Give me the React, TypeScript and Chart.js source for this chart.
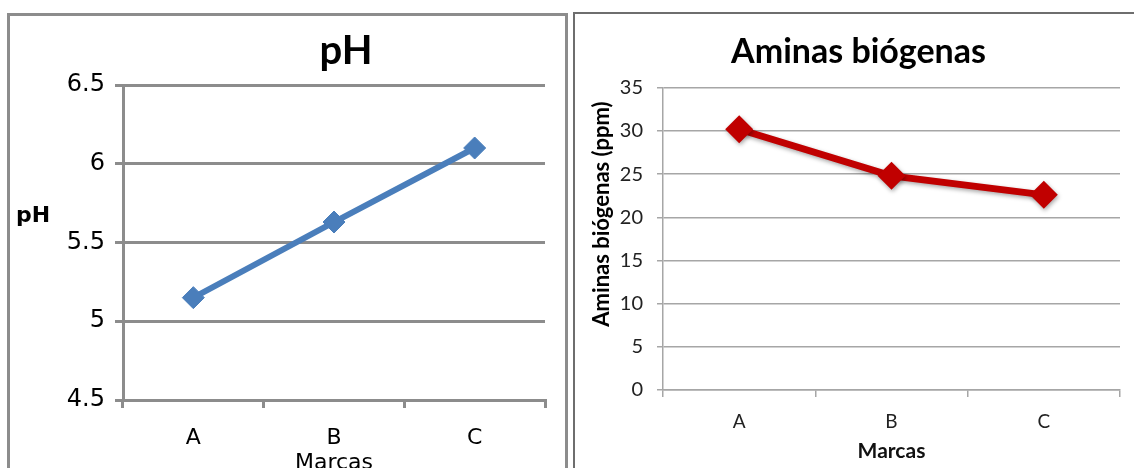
import React, { useEffect, useRef } from "react";
import { Chart, registerables } from "chart.js";

Chart.register(...registerables);

// ---- data ----
const categories = ["A", "B", "C"];
const phValues = [5.15, 5.63, 6.1];
const aminasValues = [30.2, 24.8, 22.6];
const phTitle = "pH";
const phAxisLabel = "pH";
const aminasTitle = "Aminas biógenas";
const aminasAxisLabel = "Aminas biógenas (ppm)";
const xAxisLabel = "Marcas";

const LEFT_FONT = "'DejaVu Sans', sans-serif";
const RIGHT_FONT = "Lato, 'Open Sans', sans-serif";

const leftTextPlugin = {
  id: "leftText",
  afterDraw(chart: any) {
    const ctx = chart.ctx;
    ctx.save();
    ctx.fillStyle = "#000";
    ctx.textAlign = "center";
    ctx.textBaseline = "alphabetic";
    ctx.font = "bold 40px Lato, sans-serif";
    ctx.fillText(phTitle, 346, 64);
    ctx.font = "bold 22px " + LEFT_FONT;
    ctx.textBaseline = "middle";
    ctx.fillText(phAxisLabel, 33, 216);
    ctx.restore();
  },
};

const rightTextPlugin = {
  id: "rightText",
  afterDraw(chart: any) {
    const ctx = chart.ctx;
    ctx.save();
    ctx.fillStyle = "#000";
    ctx.font = "bold 22px " + RIGHT_FONT;
    ctx.textAlign = "center";
    ctx.textBaseline = "middle";
    ctx.translate(28, 214);
    ctx.rotate(-Math.PI / 2);
    ctx.fillText(aminasAxisLabel, 0, 0);
    ctx.restore();
  },
};

const shadowPlugin = {
  id: "shadow",
  beforeDatasetsDraw(chart: any) {
    const ctx = chart.ctx;
    ctx.save();
    ctx.shadowColor = "rgba(0,0,0,0.35)";
    ctx.shadowBlur = 4;
    ctx.shadowOffsetX = 1;
    ctx.shadowOffsetY = 2;
  },
  afterDatasetsDraw(chart: any) {
    chart.ctx.restore();
  },
};

function PhChart() {
  const ref = useRef<HTMLCanvasElement>(null);
  useEffect(() => {
    if (!ref.current) return;
    const grid = "#8c8c8c";
    const chart = new Chart(ref.current, {
      type: "line",
      data: {
        labels: categories,
        datasets: [
          {
            data: phValues,
            borderColor: "#4a7ebb",
            backgroundColor: "#4a7ebb",
            borderWidth: 6,
            pointStyle: "rectRot",
            pointRadius: 11,
            pointBorderWidth: 1,
            tension: 0,
          },
        ],
      },
      options: {
        animation: false,
        responsive: false,
        maintainAspectRatio: false,
        layout: { padding: { top: 85, right: 25, left: 0, bottom: 0 } },
        plugins: {
          legend: { display: false },
          tooltip: { enabled: false },
          title: { display: false },
        },
        scales: {
          x: {
            type: "category",
            offset: true,
            grid: {
              offset: true,
              drawOnChartArea: false,
              tickLength: 8,
              color: grid,
              lineWidth: 3,
            },
            border: { color: grid, width: 3 },
            ticks: {
              padding: 17,
              color: "#000",
              font: { family: LEFT_FONT, size: 22 },
            },
            title: {
              display: true,
              text: xAxisLabel,
              color: "#000",
              padding: { top: 0, bottom: 4 },
              font: { family: LEFT_FONT, size: 22 },
            },
            afterFit: (s: any) => {
              s.height = 80;
            },
          },
          y: {
            min: 4.5,
            max: 6.5,
            ticks: {
              stepSize: 0.5,
              padding: 10,
              color: "#000",
              font: { family: LEFT_FONT, size: 24 },
              callback: (v: any) => String(v),
            },
            grid: { tickLength: 8, color: grid, lineWidth: 3 },
            border: { color: grid, width: 3 },
            afterFit: (s: any) => {
              s.width = 123;
            },
          },
        },
      },
      plugins: [leftTextPlugin],
    } as any);
    return () => chart.destroy();
  }, []);
  return (
    <canvas
      ref={ref}
      width={570}
      height={480}
      style={{ position: "absolute", left: 0, top: 0, width: 570, height: 480 }}
    />
  );
}

function AminasChart() {
  const ref = useRef<HTMLCanvasElement>(null);
  useEffect(() => {
    if (!ref.current) return;
    const grid = "#a6a6a6";
    const chart = new Chart(ref.current, {
      type: "line",
      data: {
        labels: categories,
        datasets: [
          {
            data: aminasValues,
            borderColor: "#c00000",
            backgroundColor: "#c00000",
            borderWidth: 7,
            pointStyle: "rectRot",
            pointRadius: 14,
            pointBorderWidth: 0,
            tension: 0,
          },
        ],
      },
      options: {
        animation: false,
        responsive: false,
        maintainAspectRatio: false,
        layout: { padding: { top: 12, right: 6, left: 15, bottom: 0 } },
        plugins: {
          legend: { display: false },
          tooltip: { enabled: false },
          title: {
            display: true,
            text: aminasTitle,
            color: "#000",
            font: { family: RIGHT_FONT, size: 34, weight: "bold" },
            padding: { top: 20, bottom: 15 },
          },
        },
        scales: {
          x: {
            type: "category",
            offset: true,
            grid: {
              offset: true,
              drawOnChartArea: false,
              tickLength: 7,
              color: grid,
              lineWidth: 1.5,
            },
            border: { color: grid, width: 1.5 },
            ticks: {
              padding: 13,
              color: "#222",
              font: { family: RIGHT_FONT, size: 19 },
            },
            title: {
              display: true,
              text: xAxisLabel,
              color: "#111",
              padding: { top: 0, bottom: 4 },
              font: { family: RIGHT_FONT, size: 21, weight: "bold" },
            },
            afterFit: (s: any) => {
              s.height = 78;
            },
          },
          y: {
            min: 0,
            max: 35,
            ticks: {
              stepSize: 5,
              padding: 14,
              color: "#222",
              font: { family: RIGHT_FONT, size: 20 },
            },
            grid: { tickLength: 6, color: grid, lineWidth: 1.5 },
            border: { color: grid, width: 1.5 },
            afterFit: (s: any) => {
              s.width = 74;
            },
          },
        },
      },
      plugins: [shadowPlugin, rightTextPlugin],
    } as any);
    return () => chart.destroy();
  }, []);
  return (
    <canvas
      ref={ref}
      width={560}
      height={468}
      style={{ position: "absolute", left: 574, top: 0, width: 560, height: 468 }}
    />
  );
}

export default function App() {
  return (
    <div
      style={{
        position: "fixed",
        left: 0,
        top: 0,
        width: 1134,
        height: 468,
        overflow: "hidden",
        background: "#fff",
      }}
    >
      <div
        style={{
          position: "absolute",
          left: 7,
          top: 13,
          width: 561,
          height: 480,
          border: "3px solid #8c8c8c",
          boxSizing: "border-box",
        }}
      />
      <div
        style={{
          position: "absolute",
          left: 573,
          top: 12,
          width: 580,
          height: 480,
          border: "2px solid #6e6e6e",
          boxSizing: "border-box",
        }}
      />
      <PhChart />
      <AminasChart />
    </div>
  );
}
